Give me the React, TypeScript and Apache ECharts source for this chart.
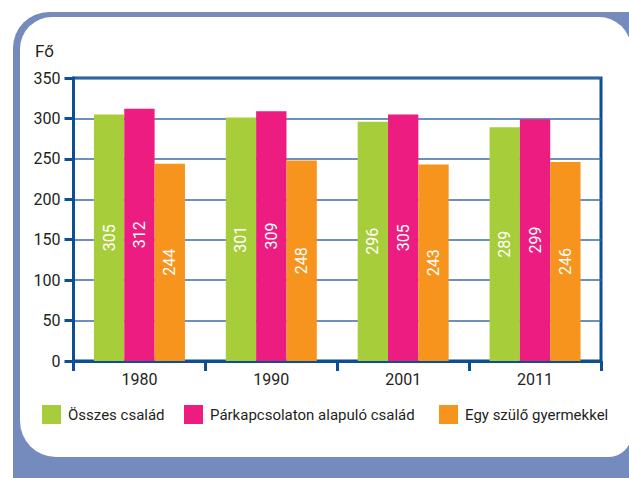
import React, { useEffect, useRef } from "react";
import * as echarts from "echarts";

const categories = ["1980", "1990", "2001", "2011"];
const seriesNames = ["Összes család", "Párkapcsolaton alapuló család", "Egy szülő gyermekkel"];
const osszes = [305, 301, 296, 289];
const parkapcsolat = [312, 309, 305, 299];
const egySzulo = [244, 248, 243, 246];
const yTicks = { min: 0, max: 350, interval: 50 };
const yName = "Fő";

const FONT = 'Roboto, "Noto Sans", sans-serif';
const TEXT = "#231f20";
const BLUE = "#0d4f93";
const colors = ["#a8cd3a", "#ec1c80", "#f7941d"];

export default function App() {
  const ref = useRef<HTMLDivElement>(null);
  useEffect(() => {
    if (!ref.current) return;
    const chart = echarts.init(ref.current, undefined, { renderer: "svg" });
    const values = [osszes, parkapcsolat, egySzulo];
    const legendLefts = [37, 179, 434];
    chart.setOption({
      animation: false,
      backgroundColor: "#ffffff",
      textStyle: { fontFamily: FONT },
      graphic: [
        {
          type: "rect",
          z: -10,
          shape: { x: 13, y: 12, width: 660, height: 520, r: 36 },
          style: { fill: "#768bbd" },
        },
        {
          type: "rect",
          z: -9,
          shape: { x: 20, y: 17, width: 611, height: 440, r: [32, 32, 22, 36] },
          style: { fill: "#ffffff" },
        },
        {
          type: "text",
          left: 35,
          top: 42,
          style: { text: yName, fontSize: 17, fontFamily: FONT, fill: TEXT },
        },
      ],
      legend: seriesNames.map((n, i) => ({
        data: [n],
        left: legendLefts[i],
        top: 400,
        icon: "rect",
        itemWidth: 19,
        itemHeight: 19,
        itemGap: 7,
        textStyle: { fontSize: 15, color: TEXT, fontFamily: FONT, padding: [0, 0, 0, 2] },
        selectedMode: false,
      })),
      grid: {
        left: 73.5,
        right: 28,
        top: 78,
        bottom: 117,
        show: true,
        borderColor: BLUE,
        borderWidth: 3,
        containLabel: false,
      },
      xAxis: {
        type: "category",
        data: categories,
        axisLine: { show: true, lineStyle: { color: BLUE, width: 3 } },
        axisTick: { show: true, length: 10, lineStyle: { color: BLUE, width: 3 } },
        axisLabel: { color: TEXT, fontSize: 16, margin: 10, fontFamily: FONT },
      },
      yAxis: {
        type: "value",
        min: yTicks.min,
        max: yTicks.max,
        interval: yTicks.interval,
        axisLine: { show: true, lineStyle: { color: BLUE, width: 3 } },
        axisTick: { show: true, length: 9, lineStyle: { color: BLUE, width: 3 } },
        axisLabel: { color: TEXT, fontSize: 16, margin: 13, fontFamily: FONT },
        splitLine: { show: true, lineStyle: { color: "#3a6ca6", width: 1.5 } },
      },
      series: seriesNames.map((n, i) => ({
        name: n,
        type: "bar",
        data: values[i],
        barGap: "0%",
        barCategoryGap: "31%",
        itemStyle: { color: colors[i] },
        label: {
          show: true,
          position: "inside",
          rotate: 90,
          color: "#ffffff",
          fontSize: 16,
          fontFamily: FONT,
        },
      })),
    });
    return () => chart.dispose();
  }, []);
  return (
    <div
      ref={ref}
      style={{ position: "fixed", left: 0, top: 0, width: 629, height: 478 }}
    />
  );
}
